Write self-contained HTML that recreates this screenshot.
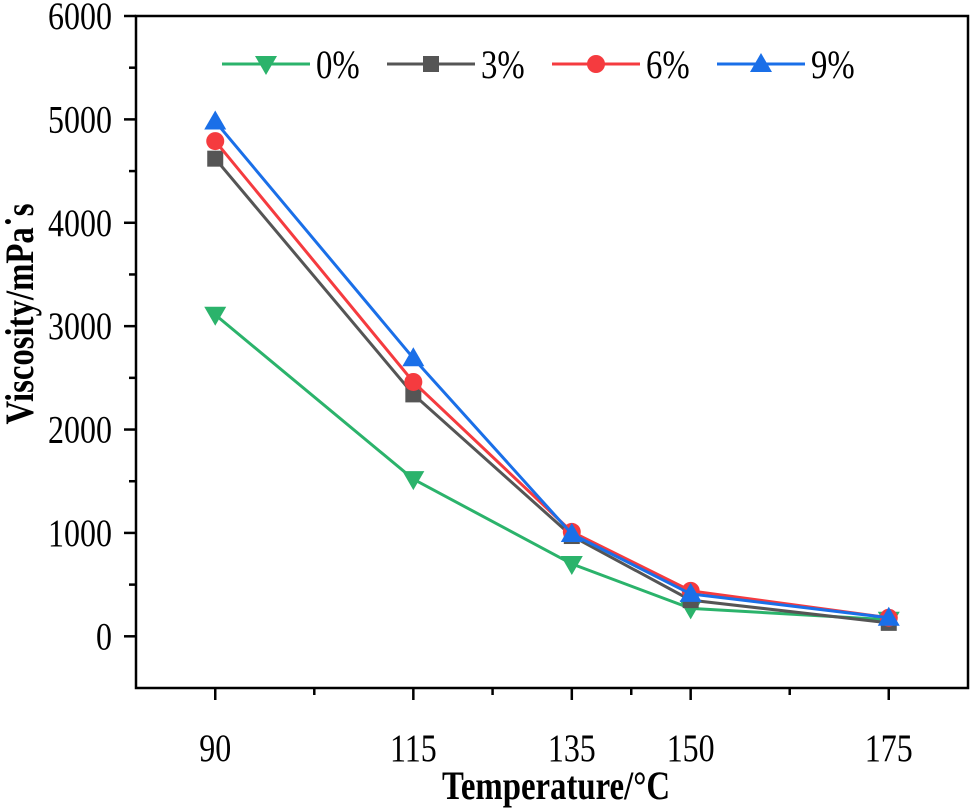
<!DOCTYPE html>
<html><head><meta charset="utf-8"><style>
body{margin:0;background:#fff}
svg{display:block}
svg text{font-family:"Liberation Serif",serif}
</style></head><body>
<svg id="chart" width="975" height="809" xmlns="http://www.w3.org/2000/svg"></svg>
<script>
const categories=[90,115,135,150,175];
const s0=[3110,1520,700,270,160];
const s3=[4620,2340,970,350,130];
const s6=[4790,2460,1010,440,180];
const s9=[4980,2690,990,410,180];
const yTicks=[0,1000,2000,3000,4000,5000,6000];
const minorX=[102.5,125,142.5,162.5];
const seriesNames=['0%','3%','6%','9%'];

const NS='http://www.w3.org/2000/svg';
const svg=document.getElementById('chart');
const L=136,R=968,T=16,B=688;
const x=v=>L+(v-80)/(185-80)*(R-L);
const y=v=>B-(v+500)/6500*(B-T);
function el(t,a,p){const e=document.createElementNS(NS,t);for(const k in a)e.setAttribute(k,a[k]);(p||svg).appendChild(e);return e;}
function txt(s,tx,ty,size,anchor,p,extra){
  const e=el('text',Object.assign({x:0,y:0,'text-anchor':anchor,'font-size':size,transform:`translate(${tx},${ty}) scale(0.82,1)`},extra||{}),p);
  e.textContent=s;return e;
}

const frame=el('rect',{x:L,y:T,width:R-L,height:B-T,fill:'none',stroke:'#000','stroke-width':2.5});



yTicks.forEach(v=>{
  const t=el('line',{x1:L-12,x2:L,y1:y(v),y2:y(v),stroke:'#000','stroke-width':2.5});
  
  
  const m=el('line',{x1:L-7,x2:L,y1:y(v+500),y2:y(v+500),stroke:'#000','stroke-width':2.5});
  
  
  const tx=txt(String(v),L-24,y(v)+13,39,'end');
  
  
});
categories.forEach(v=>{
  const t=el('line',{x1:x(v),x2:x(v),y1:B,y2:B+12,stroke:'#000','stroke-width':2.5});
  
  
  const tx=txt(String(v),x(v),B+73,39,'middle');
  
  
});
minorX.forEach(v=>{
  const t=el('line',{x1:x(v),x2:x(v),y1:B,y2:B+7,stroke:'#000','stroke-width':2.5});
  
  
});

const xt=txt('Temperature/°C',556,799,40,'middle',svg,{'font-weight':'bold'});


const yt=el('text',{x:0,y:0,'text-anchor':'middle','font-size':40,'font-weight':'bold',transform:'translate(33,314) rotate(-90) scale(0.82,1)'});
yt.textContent='Viscosity/mPa˙s';



const colors=['#2bb36b','#555555','#f53b3f','#1a6fe8'];
const shapes=['tri-down','square','circle','tri-up'];
function marker(shape,cx,cy,c,g){
  let m;
  if(shape==='square')m=el('rect',{x:cx-8,y:cy-8,width:16,height:16,fill:c},g);
  else if(shape==='circle')m=el('circle',{cx:cx,cy:cy,r:9,fill:c},g);
  else if(shape==='tri-up')m=el('polygon',{points:`${cx-11},${cy+8} ${cx+11},${cy+8} ${cx},${cy-11}`,fill:c},g);
  else m=el('polygon',{points:`${cx-11},${cy-8} ${cx+11},${cy-8} ${cx},${cy+11}`,fill:c},g);
  return m;
}
[s0,s3,s6,s9].forEach((s,i)=>{
  const g=el('g',{});
  
  
  const pl=el('polyline',{points:s.map((v,j)=>x(categories[j])+','+y(v)).join(' '),fill:'none',stroke:colors[i],'stroke-width':3},g);
  
  
  s.forEach((v,j)=>{
    const m=marker(shapes[i],x(categories[j]),y(v),colors[i],g);
    
    
  });
});
const lx=[222,387,552,717];
const lg=el('g',{});


seriesNames.forEach((n,i)=>{
  const g=el('g',{},lg);
  
  
  el('line',{x1:lx[i],x2:lx[i]+88,y1:64,y2:64,stroke:colors[i],'stroke-width':3},g);
  marker(shapes[i],lx[i]+44,64,colors[i],g);
  txt(n,lx[i]+94,78,40,'start',g);
});
</script>
</body></html>
